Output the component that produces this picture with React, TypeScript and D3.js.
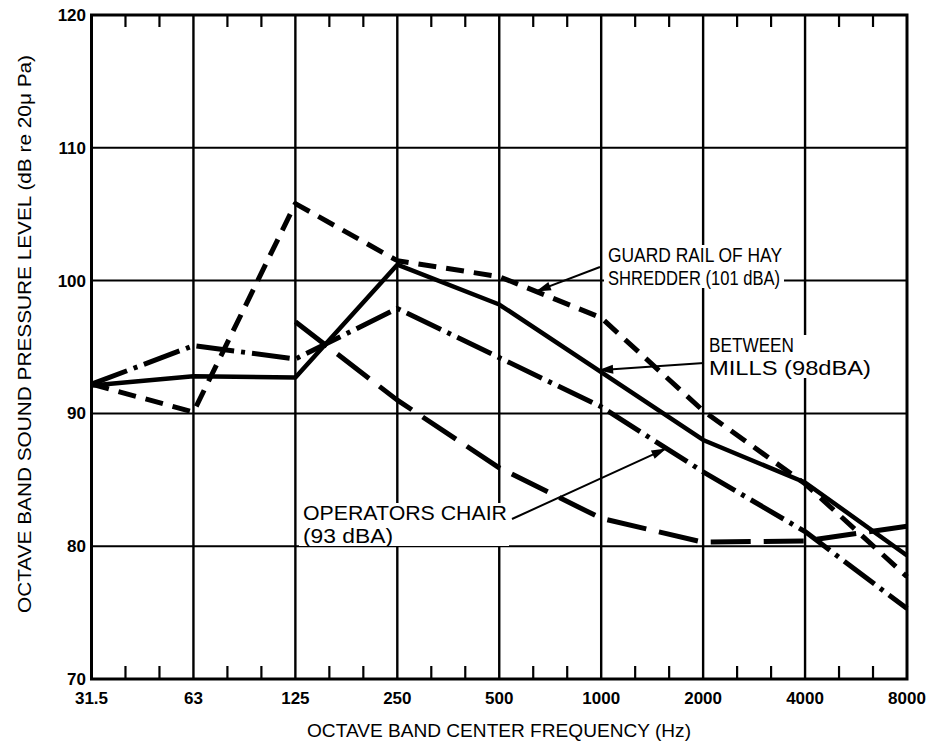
import React from 'react'
import * as d3 from 'd3'

// octave band centre frequencies (category axis)
const freqs = ['31.5', '63', '125', '250', '500', '1000', '2000', '4000', '8000']
const yTicks = [70, 80, 90, 100, 110, 120]

// sound pressure levels, dB re 20 µPa
const guardRail = [92.2, 90.1, 105.8, 101.5, 100.3, 97.2, 90.2, 84.7, 77.7]
const betweenMills = [92.1, 92.8, 92.7, 101.2, 98.2, 93.1, 88.0, 84.8, 79.3]
const operatorsChair = [92.2, 95.1, 94.1, 97.9, 94.2, 90.5, 85.6, 81.1, 75.3]
const fourthCurve = [null, null, 96.9, 91.0, 85.9, 82.1, 80.3, 80.4, 81.5]

const W = 935
const H = 743
const left = 91.5
const right = 907
const top = 15
const bottom = 679

const x = d3.scalePoint<string>().domain(freqs).range([left, right])
const y = d3.scaleLinear().domain([70, 120]).range([bottom, top])

type Series = { name: string, values: (number | null)[], dash: string, width: number }

const series: Series[] = [
    { name: 'fourth', values: fourthCurve, dash: '40,13', width: 5 },
    { name: 'operators', values: operatorsChair, dash: '38,7,4,7', width: 5 },
    { name: 'guard', values: guardRail, dash: '18,10', width: 5 },
    { name: 'mills', values: betweenMills, dash: '', width: 4.5 },
]

// labels: text lines, position of text block, and where the arrow hits (series, segment, fraction)
const notes = [
    { lines: ['GUARD RAIL OF HAY', 'SHREDDER (101 dBA)'], lens: [174, 172], tx: 608, ty: 262, from: [600, 267], s: 'guard', seg: 4, t: 0.36 },
    { lines: ['BETWEEN', 'MILLS (98dBA)'], lens: [85, 162], tx: 709, ty: 352, from: [704, 363], s: 'mills', seg: 4, t: 0.97 },
    { lines: ['OPERATORS CHAIR', '(93 dBA)'], lens: [204, 90], tx: 303, ty: 520, from: [512, 519], s: 'operators', seg: 5, t: 0.64 },
]

function pointOn(name: string, seg: number, t: number) {
    const s = series.find(d => d.name === name)!
    const x0 = x(freqs[seg])!, x1 = x(freqs[seg + 1])!
    const y0 = y(s.values[seg] as number), y1 = y(s.values[seg + 1] as number)
    return [x0 + (x1 - x0) * t, y0 + (y1 - y0) * t]
}

function arrowHead(fx: number, fy: number, tx: number, ty: number) {
    const a = Math.atan2(ty - fy, tx - fx)
    const len = 15, half = 4.5
    const bx = tx - len * Math.cos(a), by = ty - len * Math.sin(a)
    const p1 = [bx + half * Math.sin(a), by - half * Math.cos(a)]
    const p2 = [bx - half * Math.sin(a), by + half * Math.cos(a)]
    return `M${tx},${ty}L${p1[0]},${p1[1]}L${p2[0]},${p2[1]}Z`
}

export default function App() {
    const line = d3.line<number | null>()
        .defined(d => d !== null)
        .x((d, i) => x(freqs[i])!)
        .y(d => y(d as number))

    const step = x.step()
    const minor: number[] = []
    freqs.slice(0, -1).forEach(f => {
        minor.push(x(f)! + step / 3, x(f)! + 2 * step / 3)
    })

    const font = "'Liberation Sans', Arial, sans-serif"

    return (
        <svg width={W} height={H} style={{ position: 'absolute', left: 0, top: 0, background: '#fff' }}>
            <rect width={W} height={H} fill='#fff' />

            {/* grid */}
            {yTicks.slice(1, -1).map(v => (
                <line key={'h' + v} x1={left} x2={right} y1={y(v)} y2={y(v)} stroke='#000' strokeWidth={2} />
            ))}
            {freqs.slice(1, -1).map(f => (
                <line key={'v' + f} x1={x(f)} x2={x(f)} y1={top} y2={bottom} stroke='#000' strokeWidth={2.4} />
            ))}
            {minor.map((m, i) => (
                <g key={'m' + i}>
                    <line x1={m} x2={m} y1={top} y2={top + 12} stroke='#000' strokeWidth={2.2} />
                    <line x1={m} x2={m} y1={bottom} y2={bottom - 13} stroke='#000' strokeWidth={2.2} />
                </g>
            ))}
            <rect x={left} y={top} width={right - left} height={bottom - top} fill='none' stroke='#000' strokeWidth={3} />

            {/* white boxes behind annotation text */}
            {notes.map((n, i) => (
                <rect key={'bg' + i} x={n.tx - 4} y={n.ty - 17} width={Math.max(...n.lens) + 6} height={43} fill='#fff' />
            ))}

            {/* tick labels */}
            {yTicks.map(v => (
                <text key={'yt' + v} x={86} y={y(v) + 6} textAnchor='end' fontFamily={font} fontWeight='bold'
                    fontSize={17}>{v}</text>
            ))}
            {freqs.map(f => (
                <text key={'xt' + f} x={x(f)} y={704} textAnchor='middle' fontFamily={font} fontWeight='bold'
                    fontSize={17}>{f}</text>
            ))}

            {/* axis titles */}
            <text x={307} y={737} fontFamily={font} fontSize={18} textLength={384} lengthAdjust='spacingAndGlyphs'>
                OCTAVE BAND CENTER FREQUENCY  (Hz)
            </text>
            <text transform='translate(31,613) rotate(-90)' fontFamily={font} fontSize={19} textLength={558}
                lengthAdjust='spacingAndGlyphs'>
                OCTAVE BAND SOUND PRESSURE LEVEL (dB re 20μ Pa)
            </text>

            {/* curves */}
            {series.map(s => (
                <path key={s.name} d={line(s.values) || ''} fill='none' stroke='#000' strokeWidth={s.width}
                    strokeDasharray={s.dash || undefined} strokeLinejoin='round' />
            ))}

            {/* annotations */}
            {notes.map((n, i) => {
                const [px, py] = pointOn(n.s, n.seg, n.t)
                return (
                    <g key={'n' + i}>
                        {n.lines.map((l, j) => (
                            <text key={j} x={n.tx} y={n.ty + j * 23} fontFamily={font} fontSize={20}
                                textLength={n.lens[j]} lengthAdjust='spacingAndGlyphs'>{l}</text>
                        ))}
                        <line x1={n.from[0]} y1={n.from[1]} x2={px} y2={py} stroke='#000' strokeWidth={2} />
                        <path d={arrowHead(n.from[0], n.from[1], px, py)} fill='#000' />
                    </g>
                )
            })}
        </svg>
    )
}
